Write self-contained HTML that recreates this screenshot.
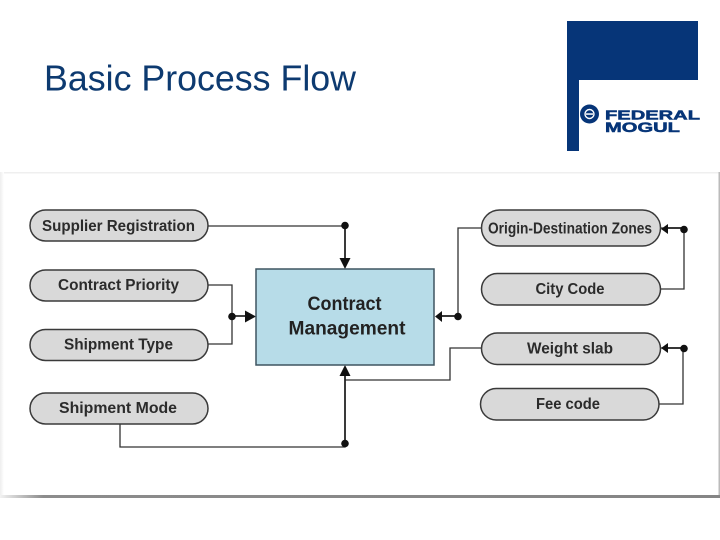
<!DOCTYPE html>
<html>
<head>
<meta charset="utf-8">
<style>
html,body{margin:0;padding:0;background:#fff;width:720px;height:540px;overflow:hidden}
svg{display:block}
text{font-family:"Liberation Sans",sans-serif}
.l{font-weight:bold;font-size:16px;fill:#2b2b2b;text-anchor:middle}
.p{fill:#d9d9d9;stroke:#3a3a3a;stroke-width:1.5}
.c{fill:none;stroke:#333;stroke-width:1.3}
.t{fill:none;stroke:#222;stroke-width:1.7}
.d{fill:#111}
</style>
</head>
<body>
<svg width="720" height="540" viewBox="0 0 720 540" xmlns="http://www.w3.org/2000/svg">
<defs>
<linearGradient id="bot" x1="0" x2="1" y1="0" y2="0"><stop offset="0" stop-color="#f2f2f2"/><stop offset="0.06" stop-color="#8c8c8c"/><stop offset="1" stop-color="#858585"/></linearGradient>
<linearGradient id="left" x1="0" x2="1" y1="0" y2="0"><stop offset="0" stop-color="#eee"/><stop offset="1" stop-color="#fff"/></linearGradient>
</defs>
<rect width="720" height="540" fill="#fff"/>
<text x="44" y="90.5" font-size="36" fill="#0d3a70" textLength="312" lengthAdjust="spacingAndGlyphs">Basic Process Flow</text>

<rect x="567" y="21" width="131" height="59" fill="#063578"/>
<rect x="567" y="21" width="12" height="130" fill="#063578"/>
<circle cx="589.5" cy="114" r="9.5" fill="#063578"/>
<ellipse cx="589.5" cy="114" rx="4.5" ry="4.5" fill="none" stroke="#fff" stroke-width="1.4"/>
<rect x="586" y="113.3" width="7" height="1.5" fill="#fff"/>
<text x="605" y="119.5" font-size="13" font-weight="bold" fill="#063578" stroke="#063578" stroke-width="0.5" textLength="95" lengthAdjust="spacingAndGlyphs">FEDERAL</text>
<text x="605" y="132" font-size="13.5" font-weight="bold" fill="#063578" stroke="#063578" stroke-width="0.5" textLength="75" lengthAdjust="spacingAndGlyphs">MOGUL</text>

<rect x="3" y="172" width="717" height="325" fill="#fff"/>
<rect x="0" y="172" width="720" height="1.5" fill="#efefef"/>
<rect x="0" y="172" width="4" height="325" fill="url(#left)"/>
<rect x="718.5" y="172" width="1.5" height="325" fill="#bbb"/>
<rect x="0" y="495" width="720" height="3" fill="url(#bot)"/>

<path class="c" d="M208 226H345V258"/>
<path class="c" d="M208 285H232V344H208"/>
<path class="t" d="M232 316H246"/>
<path class="c" d="M120 424V447H345V375"/>
<path class="c" d="M345 380H450V348H481"/>
<path class="c" d="M481 228H458V316H442"/>
<path class="c" d="M661 228H684V289H661"/>
<path class="c" d="M661 348H683V404H659"/>
<path class="t" d="M345 226V258M345 447V375M442 316H458M668 228H684M668 348H683"/>

<circle class="d" cx="345" cy="225.5" r="3.8"/>
<circle class="d" cx="232" cy="316.5" r="3.8"/>
<circle class="d" cx="345" cy="443.5" r="3.8"/>
<circle class="d" cx="458" cy="316.5" r="3.8"/>
<circle class="d" cx="684" cy="229.5" r="3.8"/>
<circle class="d" cx="684" cy="348.5" r="3.8"/>
<path class="d" d="M339.5 258H350.5L345 269Z"/>
<path class="d" d="M245 310.5L256 316.5L245 322.5Z"/>
<path class="d" d="M339.5 376H350.5L345 365Z"/>
<path class="d" d="M442 311V322L435 316.5Z"/>
<path class="d" d="M668 224V234L661 229Z"/>
<path class="d" d="M668 343V353L661 348Z"/>

<rect x="256" y="269" width="178" height="96" fill="#b7dce8" stroke="#3f5560" stroke-width="1.5"/>
<text x="344.5" y="310" font-size="19" font-weight="bold" fill="#222" text-anchor="middle" textLength="74" lengthAdjust="spacingAndGlyphs">Contract</text>
<text x="347" y="334.5" font-size="19" font-weight="bold" fill="#222" text-anchor="middle" textLength="117" lengthAdjust="spacingAndGlyphs">Management</text>

<rect class="p" x="30" y="210" width="178" height="31" rx="15.5"/>
<rect class="p" x="30" y="270" width="178" height="31" rx="15.5"/>
<rect class="p" x="30" y="329.5" width="178" height="31" rx="15.5"/>
<rect class="p" x="30" y="393" width="178" height="31" rx="15.5"/>
<rect class="p" x="481.5" y="210" width="179" height="36" rx="18"/>
<rect class="p" x="481.5" y="273.5" width="179" height="31.5" rx="15.7"/>
<rect class="p" x="481.5" y="333" width="179" height="31.5" rx="15.7"/>
<rect class="p" x="480.5" y="388.5" width="178.5" height="31.5" rx="15.7"/>

<text class="l" x="118.5" y="231" textLength="153" lengthAdjust="spacingAndGlyphs">Supplier Registration</text>
<text class="l" x="118.5" y="290" textLength="121" lengthAdjust="spacingAndGlyphs">Contract Priority</text>
<text class="l" x="118.5" y="349.5" textLength="109" lengthAdjust="spacingAndGlyphs">Shipment Type</text>
<text class="l" x="118" y="413" textLength="118" lengthAdjust="spacingAndGlyphs">Shipment Mode</text>
<text class="l" x="570" y="233.5" textLength="164" lengthAdjust="spacingAndGlyphs">Origin-Destination Zones</text>
<text class="l" x="570" y="294" textLength="69" lengthAdjust="spacingAndGlyphs">City Code</text>
<text class="l" x="570" y="353.5" textLength="86" lengthAdjust="spacingAndGlyphs">Weight slab</text>
<text class="l" x="568" y="409" textLength="64" lengthAdjust="spacingAndGlyphs">Fee code</text>
</svg>
</body>
</html>
